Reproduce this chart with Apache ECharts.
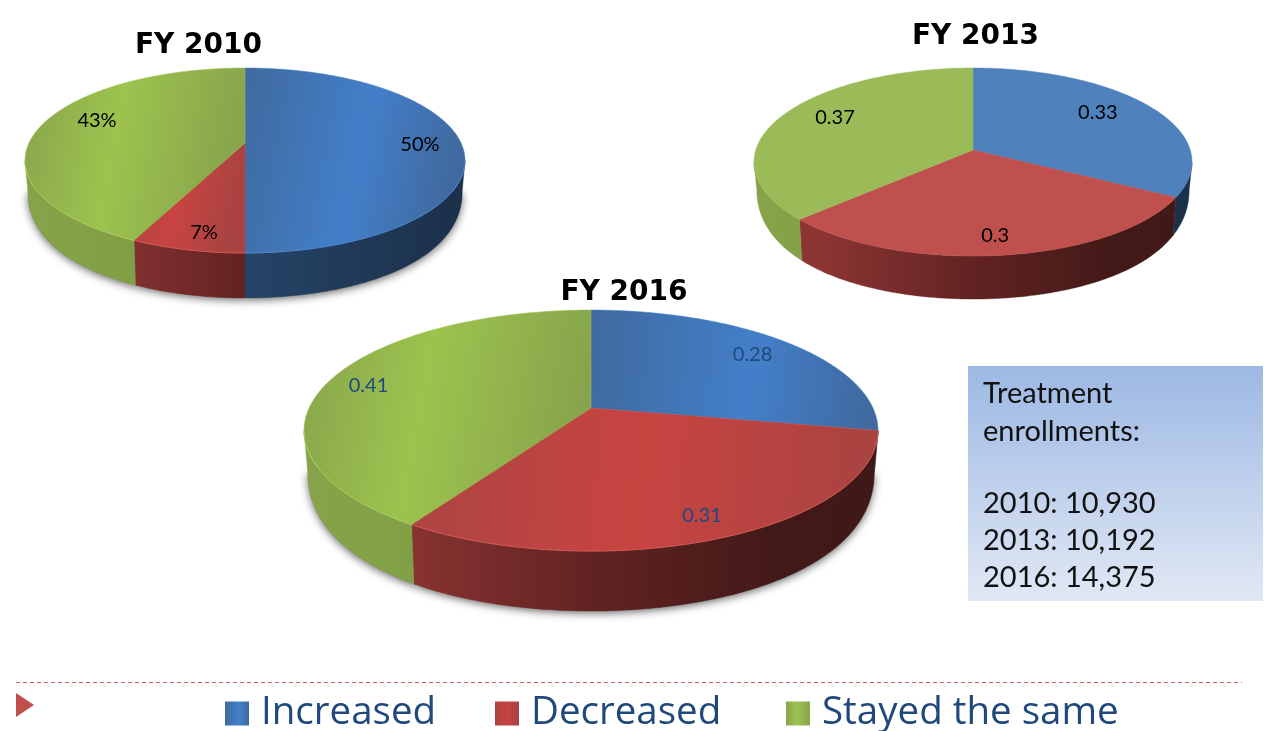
<!DOCTYPE html>
<html>
<head>
<meta charset="utf-8">
<style>html,body{margin:0;padding:0;background:#fff}#chart{width:1264px;height:731px}</style>
<script src="https://cdn.jsdelivr.net/npm/echarts@6/dist/echarts.min.js"></script>
</head>
<body>
<div id="chart"></div>
<script>
// ---- data ----
const years = ['FY 2010', 'FY 2013', 'FY 2016'];
const categories = ['Increased', 'Decreased', 'Stayed the same'];
const increased = [0.50, 0.33, 0.28];
const decreased = [0.07, 0.30, 0.31];
const stayedSame = [0.43, 0.37, 0.41];
const enrollmentLines = ['Treatment', 'enrollments:', '', '2010: 10,930', '2013: 10,192', '2016: 14,375'];
const allValues = [increased, decreased, stayedSame];

// ---- layout and style ----
const FONT = 'Lato, "Noto Sans", sans-serif';
const pies = [
  {cx: 245, apexY: 143, w: 220, b: 89.2, p: 0.189, depth: 45, glossy: true,  label: '#000', fmt: v => Math.round(v * 100) + '%',
   labelR: [[0.81, 0], [0.847, -1.7], [0.775, 8.8]], title: [193.5, 41]},
  {cx: 973, apexY: 150, w: 219, b: 92.5, p: 0.128, depth: 43, glossy: false, label: '#000', fmt: v => String(v),
   labelR: [[0.754, -5.7], [0.819, 0.8], [0.77, 6.6]], title: [970.5, 32]},
  {cx: 591, apexY: 408, w: 287, b: 116.3, p: 0.187, depth: 60, glossy: true, label: '#1f497d', fmt: v => String(v),
   labelR: [[0.816, 0], [0.847, 0], [0.85, -1.3]], title: [619, 288]}
];
const palette = [
  {flat: '#4f81bd', top: [[0, '#3f6a9e'], [0.58, '#437fc9'], [1, '#40699f']],
   wall: [[0, '#2a4a70'], [0.5, '#264467'], [1, '#1b3049']], edge: '#4f86cc'},
  {flat: '#c0504d', top: [[0, '#ab4442'], [0.5, '#c84441'], [1, '#a84341']],
   wall: [[0, '#8e3a38'], [0.15, '#8c3533'], [0.5, '#622322'], [0.8, '#441a19'], [1, '#3f1817']], edge: '#d05a56'},
  {flat: '#9bbb59', top: [[0, '#87a44c'], [0.45, '#9dc34e'], [1, '#87a44c']],
   wall: [[0, '#86a349'], [0.3, '#7f9f44'], [1, '#7f9f44']], edge: '#abd05a'}
];
const toStops = list => list.map(s => ({offset: s[0], color: s[1]}));
const linear = (stops, y2) => new echarts.graphic.LinearGradient(0, 0, 1, y2, toStops(stops));

function renderSlice(params, api) {
  const s = params.seriesIndex, pieIdx = api.value(0), value = api.value(1);
  const P = pies[pieIdx], pal = palette[s];
  const a = P.w * Math.sqrt(1 - P.p * P.p);
  let before = 0;
  for (let k = 0; k < s; k++) before += allValues[k][pieIdx];
  const t0 = before * 2 * Math.PI, t1 = (before + value) * 2 * Math.PI;
  const proj = (t, r) => {
    const u = Math.sin(t) * r, v = -Math.cos(t) * r, w = 1 - P.p * v;
    return [P.cx + a * u / w, P.apexY + P.b * v / w];
  };
  const arc = (from, to, fn) => {
    const n = Math.max(2, Math.ceil((to - from) / 0.01)), out = [];
    for (let i = 0; i <= n; i++) out.push(fn(from + (to - from) * i / n));
    return out;
  };
  const children = [];
  // side wall, only the part facing the viewer
  const sil = Math.acos(-P.p);
  const w0 = Math.max(t0, sil), w1 = Math.min(t1, 2 * Math.PI - sil);
  if (w1 > w0) {
    const upper = arc(w0, w1, t => proj(t, 1));
    const lower = arc(w0, w1, t => {
      const q = proj(t, 1), v = -Math.cos(t);
      return [P.cx + (q[0] - P.cx) * 0.987, q[1] + P.depth * (1 - 0.45 * (1 - v) * (1 - v))];
    }).reverse();
    const pts = upper.concat(lower);
    if (P.glossy) {
      children.push({type: 'polygon', z2: 0, shape: {points: lower.concat([[P.cx, P.apexY]])},
        style: {fill: '#777', shadowBlur: 9, shadowColor: 'rgba(0,0,0,0.6)', shadowOffsetY: 2}});
    }
    const wallFill = new echarts.graphic.LinearGradient(P.cx - P.w, 0, P.cx + P.w, 0, toStops(pal.wall), true);
    children.push({type: 'polygon', z2: 1, shape: {points: pts}, style: {fill: wallFill, stroke: wallFill, lineWidth: 0.4}});
  }
  // top face
  const topPts = [[P.cx, P.apexY]].concat(arc(t0, t1, t => proj(t, 1)));
  children.push({type: 'polygon', z2: 2, shape: {points: topPts},
    style: P.glossy ? {fill: linear(pal.top, 0.25), stroke: pal.top[1][1], lineWidth: 0.5}
                    : {fill: pal.flat, stroke: pal.flat, lineWidth: 0.5}});
  // lit rim on the glossy pies
  if (P.glossy && w1 > w0) {
    children.push({type: 'polyline', z2: 3, shape: {points: arc(w0, w1, t => proj(t, 1))},
      style: {fill: null, stroke: pal.edge, lineWidth: 1}});
  }
  // value label
  const lr = P.labelR[s];
  const q = proj((t0 + t1) / 2 + lr[1] * Math.PI / 180, lr[0]);
  children.push({type: 'text', z2: 5, x: q[0], y: q[1] + 1.5,
    style: {text: P.fmt(value), fill: P.label, font: '20px ' + FONT, align: 'center', verticalAlign: 'middle'}});
  return {type: 'group', children};
}

const chart = echarts.init(document.getElementById('chart'), null, {renderer: 'canvas'});
const boxX = 968, boxY = 366, boxW = 295, boxH = 235;
const lineY = [394, 432, 468, 504, 541, 578];
const legendLeft = [220, 490, 781];
chart.setOption({
  backgroundColor: '#fff',
  animation: false,
  title: pies.map((P, i) => ({
    text: years[i], left: P.title[0], top: P.title[1], textAlign: 'center', textVerticalAlign: 'middle',
    textStyle: {fontFamily: '"DejaVu Sans"', fontWeight: 'bold', fontSize: 28, color: '#000'}
  })),
  legend: categories.map((c, i) => ({
    data: [c], left: legendLeft[i], top: 689, icon: 'rect', itemWidth: 24, itemHeight: 24,
    textStyle: {fontFamily: '"Open Sans"', fontSize: 38.5, color: '#1f497d', padding: [0, 0, 0, 7]},
    selectedMode: false
  })),
  series: categories.map((name, i) => ({
    type: 'custom', name, coordinateSystem: 'none', silent: true,
    itemStyle: {color: linear(palette[i].top, 0)},
    renderItem: renderSlice,
    data: allValues[i].map((v, k) => [k, v])
  })),
  graphic: [
    {type: 'rect', silent: true, z: -1, shape: {x: boxX, y: boxY, width: boxW, height: boxH},
     style: {fill: new echarts.graphic.LinearGradient(0, 0, 0, 1, [{offset: 0, color: '#9cb8e3'}, {offset: 1, color: '#e1e8f5'}])}},
    ...enrollmentLines.map((t, i) => ({type: 'text', silent: true, x: 983, y: lineY[i],
      style: {text: t, fill: '#111', font: '29px ' + FONT, verticalAlign: 'middle'}})),
    {type: 'line', silent: true, shape: {x1: 16, y1: 682.5, x2: 1242, y2: 682.5},
     style: {stroke: '#c9615e', lineWidth: 1, lineDash: [4, 3]}},
    {type: 'polygon', silent: true, shape: {points: [[16, 693], [34, 705], [16, 717]]}, style: {fill: '#c0504d'}}
  ]
});
</script>
</body>
</html>
